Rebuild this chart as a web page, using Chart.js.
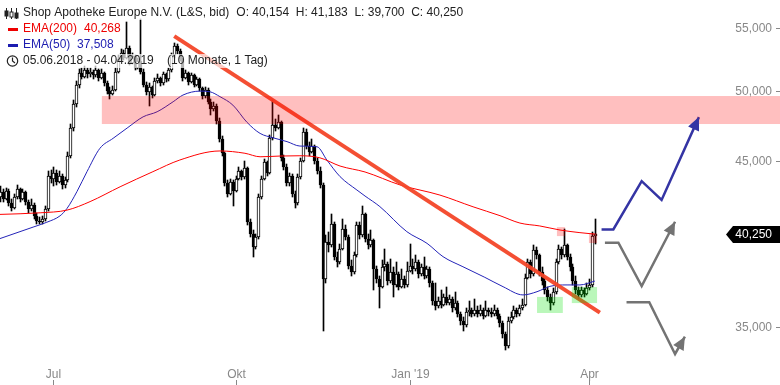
<!DOCTYPE html>
<html>
<head>
<meta charset="utf-8">
<script src="https://cdn.jsdelivr.net/npm/chart.js@4.4.1/dist/chart.umd.min.js"></script>
<style>
  html, body { margin: 0; padding: 0; background: #fff; }
  #chart { display: block; }
</style>
</head>
<body>
<canvas id="chart" width="780" height="385"></canvas>
<script>
// Tageskerzen 05.06.2018 - 04.04.2019 (Index = Handelstag)
const opens = [
  42.6, 42.9, 42.5, 43.0, 42.2, 41.9, 42.6, 43.1, 42.5, 42.9,
  42.3, 41.8, 42.1, 41.4, 41.1, 41.0, 41.2, 41.8, 44.0, 43.8,
  44.2, 43.6, 44.0, 43.4, 43.7, 45.3, 47.3, 49.0, 50.5, 51.4,
  51.1, 51.6, 51.3, 51.5, 51.2, 51.6, 51.0, 51.4, 50.6, 50.0,
  49.8, 50.1, 51.5, 52.5, 53.0, 52.6, 53.4, 52.2, 52.7, 51.8,
  52.3, 51.5, 50.5, 49.9, 50.3, 49.7, 50.8, 51.0, 50.6, 51.3,
  50.9, 51.6, 52.8, 53.5, 53.1, 52.5, 51.0, 51.4, 50.7, 51.2,
  50.5, 50.9, 50.2, 49.6, 50.1, 49.2, 48.7, 48.9, 47.8, 46.5,
  45.5, 43.5, 42.8, 43.6, 43.0, 43.8, 44.3, 43.9, 44.5, 41.0,
  40.3, 39.5, 40.1, 42.6, 43.8, 44.9, 44.2, 46.6, 47.5, 47.3,
  47.7, 45.2, 44.6, 43.5, 44.0, 42.8, 42.2, 43.9, 45.0, 47.0,
  46.0, 45.6, 46.0, 45.0, 44.3, 43.4, 37.6, 39.8, 39.6, 40.9,
  38.9, 38.6, 39.4, 40.6, 40.1, 38.4, 38.0, 39.0, 40.8, 40.2,
  41.5, 40.0, 39.6, 39.9, 38.2, 37.6, 37.2, 38.3, 38.5, 37.5,
  38.0, 37.3, 37.9, 37.2, 37.6, 37.3, 38.1, 38.4, 38.2, 38.6,
  37.9, 38.3, 37.8, 38.2, 37.4, 36.4, 36.1, 36.4, 36.2, 36.6,
  36.3, 36.5, 36.0, 36.3, 35.7, 35.3, 35.1, 35.8, 35.9, 35.7,
  35.9, 35.7, 35.9, 35.6, 35.9, 35.8, 35.7, 35.9, 35.6, 35.2,
  34.6, 34.0, 35.3, 35.5, 35.9, 35.7, 36.0, 36.2, 37.7, 38.6,
  37.9, 39.3, 39.0, 38.0, 37.5, 37.0, 36.6, 36.3, 36.9, 38.6,
  39.4, 39.0, 39.6, 38.9, 38.3, 37.5, 37.0, 36.7, 37.0, 36.8,
  37.1, 37.3, 40.154
];
const highs = [
  43.3, 43.1, 43.2, 43.1, 42.5, 42.8, 43.4, 43.2, 43.1, 43.0,
  42.4, 42.5, 42.2, 41.6, 41.3, 41.4, 42.0, 44.3, 44.4, 44.6,
  44.4, 44.3, 44.1, 43.9, 45.6, 47.6, 49.3, 50.8, 51.7, 51.8,
  51.9, 51.8, 51.8, 51.6, 51.9, 51.7, 51.7, 51.5, 50.8, 50.3,
  50.4, 51.8, 52.8, 53.3, 53.2, 55.5, 53.5, 53.0, 52.8, 52.6,
  55.8, 51.7, 50.7, 50.6, 50.4, 51.0, 51.3, 51.1, 51.5, 51.4,
  51.8, 53.0, 53.8, 53.7, 53.3, 52.6, 51.6, 51.5, 51.4, 51.3,
  51.1, 51.0, 50.3, 50.3, 50.2, 49.4, 49.2, 49.0, 48.0, 46.7,
  45.6, 43.7, 43.8, 43.7, 44.0, 44.6, 44.4, 45.0, 44.6, 41.2,
  40.5, 40.3, 42.8, 44.0, 45.1, 45.0, 46.8, 49.3, 47.9, 48.2,
  47.8, 45.4, 44.8, 44.2, 44.1, 43.0, 44.1, 45.2, 47.3, 47.2,
  46.3, 46.5, 46.1, 45.2, 44.6, 43.5, 40.2, 40.4, 41.5, 41.0,
  39.2, 39.7, 41.2, 40.8, 40.2, 38.7, 39.2, 41.0, 41.0, 42.0,
  41.6, 40.3, 40.5, 40.0, 38.4, 37.8, 38.7, 39.4, 38.6, 38.8,
  38.3, 38.6, 38.0, 38.2, 37.8, 38.6, 39.7, 38.8, 39.0, 38.7,
  38.5, 38.9, 38.4, 38.3, 37.5, 37.4, 36.6, 37.0, 36.8, 37.2,
  36.7, 36.6, 36.9, 36.4, 35.8, 35.5, 36.0, 36.4, 36.0, 36.5,
  36.1, 36.2, 36.0, 36.4, 36.0, 36.0, 36.2, 36.0, 35.7, 35.3,
  34.7, 35.5, 35.8, 36.1, 36.0, 36.2, 36.5, 37.9, 38.8, 38.7,
  39.6, 39.5, 39.1, 38.3, 37.7, 37.2, 36.8, 37.1, 38.8, 39.6,
  39.5, 40.6, 39.7, 39.1, 38.5, 37.8, 37.2, 37.2, 37.1, 37.4,
  37.6, 40.4, 41.183
];
const lows = [
  42.3, 42.3, 42.4, 42.0, 41.7, 41.8, 42.5, 42.3, 42.4, 42.1,
  41.6, 41.7, 41.2, 40.9, 40.9, 40.9, 41.1, 41.7, 43.5, 43.3,
  43.4, 43.5, 43.1, 43.2, 43.6, 45.2, 47.1, 48.8, 50.2, 50.9,
  51.0, 51.0, 51.1, 50.9, 51.1, 50.8, 50.9, 50.4, 49.8, 49.4,
  49.7, 50.0, 51.4, 52.3, 52.4, 52.5, 52.0, 52.1, 51.6, 51.7,
  51.3, 50.3, 49.7, 48.9, 49.5, 49.6, 50.6, 50.4, 50.5, 50.7,
  50.8, 51.5, 52.6, 52.9, 52.3, 50.8, 50.9, 50.5, 50.6, 50.3,
  50.4, 50.0, 49.4, 49.5, 49.0, 48.2, 48.5, 47.6, 46.3, 45.3,
  43.3, 42.6, 42.7, 42.0, 42.9, 43.7, 43.7, 43.8, 40.8, 40.1,
  38.9, 39.4, 40.0, 42.5, 43.7, 44.0, 44.1, 46.4, 47.1, 47.2,
  45.0, 44.4, 43.3, 43.3, 42.6, 41.9, 42.1, 43.8, 44.9, 45.8,
  45.3, 45.5, 44.8, 44.1, 43.2, 34.8, 37.4, 39.2, 39.5, 38.7,
  38.3, 38.5, 39.3, 39.9, 38.2, 37.8, 37.9, 38.9, 40.0, 40.1,
  39.8, 39.4, 39.5, 37.0, 37.4, 36.0, 37.1, 38.1, 37.3, 37.4,
  36.6, 37.2, 37.0, 37.1, 37.1, 37.2, 38.0, 37.9, 38.1, 37.7,
  37.8, 37.6, 37.7, 37.2, 36.2, 35.9, 36.0, 36.0, 36.1, 36.2,
  36.2, 35.8, 35.9, 35.5, 35.1, 34.8, 35.0, 35.6, 35.5, 35.6,
  35.5, 35.6, 35.4, 35.5, 35.6, 35.5, 35.6, 35.4, 35.0, 34.4,
  33.8, 33.9, 35.2, 35.4, 35.5, 35.6, 35.9, 36.1, 37.6, 37.7,
  37.8, 38.8, 37.8, 37.3, 36.8, 36.4, 35.9, 36.2, 36.8, 38.5,
  38.8, 38.9, 38.7, 38.1, 37.3, 36.8, 36.5, 36.6, 36.6, 36.7,
  37.0, 37.2, 39.70
];
const closes = [
  42.9, 42.5, 43.0, 42.2, 41.9, 42.6, 43.1, 42.5, 42.9, 42.3,
  41.8, 42.1, 41.4, 41.1, 41.0, 41.2, 41.8, 44.0, 43.8, 44.2,
  43.6, 44.0, 43.4, 43.7, 45.3, 47.3, 49.0, 50.5, 51.4, 51.1,
  51.6, 51.3, 51.5, 51.2, 51.6, 51.0, 51.4, 50.6, 50.0, 49.8,
  50.1, 51.5, 52.5, 53.0, 52.6, 53.4, 52.2, 52.7, 51.8, 52.3,
  51.5, 50.5, 49.9, 50.3, 49.7, 50.8, 51.0, 50.6, 51.3, 50.9,
  51.6, 52.8, 53.5, 53.1, 52.5, 51.0, 51.4, 50.7, 51.2, 50.5,
  50.9, 50.2, 49.6, 50.1, 49.2, 48.7, 48.9, 47.8, 46.5, 45.5,
  43.5, 42.8, 43.6, 43.0, 43.8, 44.3, 43.9, 44.5, 41.0, 40.3,
  39.5, 40.1, 42.6, 43.8, 44.9, 44.2, 46.6, 47.5, 47.3, 47.7,
  45.2, 44.6, 43.5, 44.0, 42.8, 42.2, 43.9, 45.0, 47.0, 46.0,
  45.6, 46.0, 45.0, 44.3, 43.4, 37.6, 39.8, 39.6, 40.9, 38.9,
  38.6, 39.4, 40.6, 40.1, 38.4, 38.0, 39.0, 40.8, 40.2, 41.5,
  40.0, 39.6, 39.9, 38.2, 37.6, 37.2, 38.3, 38.5, 37.5, 38.0,
  37.3, 37.9, 37.2, 37.6, 37.3, 38.1, 38.4, 38.2, 38.6, 37.9,
  38.3, 37.8, 38.2, 37.4, 36.4, 36.1, 36.4, 36.2, 36.6, 36.3,
  36.5, 36.0, 36.3, 35.7, 35.3, 35.1, 35.8, 35.9, 35.7, 35.9,
  35.7, 35.9, 35.6, 35.9, 35.8, 35.7, 35.9, 35.6, 35.2, 34.6,
  34.0, 35.3, 35.5, 35.9, 35.7, 36.0, 36.2, 37.7, 38.6, 37.9,
  39.3, 39.0, 38.0, 37.5, 37.0, 36.6, 36.3, 36.9, 38.6, 39.4,
  39.0, 39.6, 38.9, 38.3, 37.5, 37.0, 36.7, 37.0, 36.8, 37.1,
  37.3, 40.15, 40.25
];

// EMA-Linien (Index/Kurs)
const ema200Idx = [0, 14.3, 23.9, 32.1, 42.8, 54.5, 64.1, 78.4, 87.3, 92.7, 99.8, 106.9, 114.0, 121.2, 130.1, 142.6, 156.8, 168.6, 178.2, 185.3, 192.4, 199.6, 206.7, 212];
const ema200Val = [41.49, 41.59, 41.76, 42.3, 43.26, 44.26, 45.05, 45.67, 45.51, 45.27, 45.32, 45.34, 45.20, 44.64, 44.24, 43.38, 42.72, 41.97, 41.41, 40.95, 40.77, 40.52, 40.36, 40.268];
const ema50Idx = [0, 11.8, 16.7, 21.4, 23.9, 27.4, 31.0, 35.6, 40.3, 45.3, 51.0, 56.0, 61.7, 65.2, 71.3, 74.8, 78.4, 83.0, 88.0, 92.7, 97.3, 102.3, 106.9, 113.0, 116.5, 121.2, 127.2, 130.1, 135.4, 145.0, 152.2, 157.9, 165.0, 172.8, 179.3, 186.4, 191.4, 196.0, 202.1, 206.7, 212];
const ema50Val = [40.0, 40.7, 41.0, 41.4, 41.87, 42.94, 44.26, 45.85, 46.55, 47.28, 48.09, 48.46, 49.20, 49.70, 50.00, 49.95, 49.58, 48.95, 47.7, 46.9, 46.59, 46.32, 46.01, 45.96, 45.05, 43.93, 43.05, 42.66, 41.98, 40.42, 39.71, 38.92, 38.33, 37.72, 37.19, 36.73, 36.91, 37.21, 37.29, 37.29, 37.508];

// Achsen
const monthTickIdx = [19, 84, 146, 210];
const monthTickLabels = ["Jul", "Okt", "Jan '19", "Apr"];
const priceTicks = [35, 45, 50, 55];

// Zeichnungen
const trendIdx = [62.1, 213.8];
const trendVal = [54.34, 35.76];
const blueIdx = [214.4, 218.6, 228.7, 235.8, 249.1];
const blueVal = [40.56, 40.56, 43.63, 42.41, 48.07];
const gray1Idx = [215.6, 220.4, 228.7, 240.6];
const gray1Val = [39.75, 39.75, 37.23, 41.03];
const gray2Idx = [223.3, 231.4, 240.6, 244.1];
const gray2Val = [36.33, 36.33, 33.59, 34.48];
const zoneIdx = [36.3, 278];
const zoneVal = [47.57, 49.63];
const greenIdx = [[191.4, 200.6], [203.8, 212.8]];
const greenVal = [[35.74, 36.62], [36.28, 37.17]];
const pinkIdx = [[198.5, 201.4], [209.9, 212.8]];
const pinkVal = [[40.15, 40.70], [39.73, 40.34]];

const FONT = "12px 'Liberation Sans', Arial, sans-serif";
const fmt = v => v.toFixed(3).replace(".", ",");
const pts = (xs, ys) => xs.map((x, i) => ({ x: x, y: ys[i] }));

const n = closes.length;
const last = n - 1;
const wickData = closes.map((c, i) => ({ x: i, y: [lows[i], highs[i]] }));
const bodyData = closes.map((c, i) => ({ x: i, y: [Math.min(opens[i], c), Math.max(opens[i], c)] }));
const bodyColors = closes.map((c, i) => (c >= opens[i] ? "#ffffff" : "#000000"));

function arrowHead(ctx, x1, y1, x2, y2, color) {
  const a = Math.atan2(y2 - y1, x2 - x1);
  const len = 13, half = 6;
  ctx.fillStyle = color;
  ctx.beginPath();
  ctx.moveTo(x2, y2);
  ctx.lineTo(x2 - len * Math.cos(a) + half * Math.sin(a), y2 - len * Math.sin(a) - half * Math.cos(a));
  ctx.lineTo(x2 - len * Math.cos(a) - half * Math.sin(a), y2 - len * Math.sin(a) + half * Math.cos(a));
  ctx.closePath();
  ctx.fill();
}

function textWithBg(ctx, txt, x, y, color) {
  const w = ctx.measureText(txt).width;
  ctx.fillStyle = "rgba(255,255,255,0.7)";
  ctx.fillRect(x - 1, y - 7, w + 2, 14);
  ctx.fillStyle = color;
  ctx.fillText(txt, x, y);
  return x + w;
}

// Kerzen auf ganze Pixel legen, damit sie scharf wirken
const crisp = {
  id: "crisp",
  afterDatasetsUpdate(chart) {
    chart.data.datasets.forEach((ds, k) => {
      if (ds.type !== "bar") return;
      chart.getDatasetMeta(k).data.forEach(el => {
        el.x = Math.round(el.x) + 0.5;
        const top = Math.round(Math.min(el.y, el.base));
        let bot = Math.round(Math.max(el.y, el.base));
        if (bot - top < 1) bot = top + 1;
        el.y = top;
        el.base = bot;
        el.height = bot - top;
      });
    });
  }
};

const overlay = {
  id: "overlay",
  afterDatasetsDraw(chart) {
    const { ctx } = chart;
    const xs = chart.scales.x, ys = chart.scales.y;
    const px = i => xs.getPixelForValue(i);
    const py = v => ys.getPixelForValue(v);
    const box = (i0, i1, v0, v1, color) => {
      ctx.fillStyle = color;
      ctx.fillRect(px(i0), py(v1), px(i1) - px(i0), py(v0) - py(v1));
    };
    ctx.save();

    // Zonen
    box(zoneIdx[0], zoneIdx[1], zoneVal[0], zoneVal[1], "rgba(255,0,0,0.25)");
    greenIdx.forEach((g, k) => box(g[0], g[1], greenVal[k][0], greenVal[k][1], "rgba(0,225,0,0.27)"));
    pinkIdx.forEach((p, k) => box(p[0], p[1], pinkVal[k][0], pinkVal[k][1], "rgba(255,0,0,0.25)"));

    // Pfeilspitzen
    const head = (xa, va, color) => {
      const m = xa.length - 1;
      arrowHead(ctx, px(xa[m - 1]), py(va[m - 1]), px(xa[m]), py(va[m]), color);
    };
    head(blueIdx, blueVal, "#3434a4");
    head(gray1Idx, gray1Val, "#737373");
    head(gray2Idx, gray2Val, "#737373");

    // Y-Achse (rechts, innen)
    ctx.font = FONT;
    ctx.textBaseline = "middle";
    ctx.textAlign = "right";
    ctx.strokeStyle = "#888";
    ctx.lineWidth = 1;
    priceTicks.forEach(v => {
      const yy = Math.round(py(v)) + 0.5;
      ctx.fillStyle = "#888";
      ctx.fillText(fmt(v), 772, yy);
      ctx.beginPath();
      ctx.moveTo(776, yy);
      ctx.lineTo(780, yy);
      ctx.stroke();
    });

    // Kurs-Marke
    const yl = py(closes[last]);
    ctx.fillStyle = "#000";
    ctx.beginPath();
    ctx.moveTo(726, yl);
    ctx.lineTo(733, yl - 8.5);
    ctx.lineTo(780, yl - 8.5);
    ctx.lineTo(780, yl + 8.5);
    ctx.lineTo(733, yl + 8.5);
    ctx.closePath();
    ctx.fill();
    ctx.fillStyle = "#fff";
    ctx.fillText(fmt(closes[last]), 772, yl);

    // X-Achse (unten, innen)
    ctx.textAlign = "center";
    monthTickIdx.forEach((i, k) => {
      const xx = Math.round(px(i)) + 0.5;
      ctx.fillStyle = "#888";
      ctx.fillText(monthTickLabels[k], xx, 375);
      ctx.beginPath();
      ctx.moveTo(xx, 380);
      ctx.lineTo(xx, 385);
      ctx.stroke();
    });

    // Legende
    ctx.textAlign = "left";
    let x = textWithBg(ctx, "Shop Apotheke Europe N.V. (L&S, bid)", 23, 13, "#222");
    const ohlc = "O: " + fmt(opens[last]) + "  H: " + fmt(highs[last]) + "  L: " + fmt(lows[last]) + "  C: " + fmt(closes[last]);
    textWithBg(ctx, ohlc, x + 7, 13, "#222");
    textWithBg(ctx, "EMA(200)", 23, 29, "#ee0000");
    textWithBg(ctx, fmt(ema200Val[ema200Val.length - 1]), 84, 29, "#ee0000");
    textWithBg(ctx, "EMA(50)", 23, 45, "#1c1cb0");
    textWithBg(ctx, fmt(ema50Val[ema50Val.length - 1]), 77, 45, "#1c1cb0");
    textWithBg(ctx, "05.06.2018 - 04.04.2019", 23, 61, "#222");
    textWithBg(ctx, "(10 Monate, 1 Tag)", 167, 61, "#222");

    // Symbole
    ctx.fillStyle = "#ee0000";
    ctx.fillRect(8, 28, 10, 3);
    ctx.fillStyle = "#1c1cb0";
    ctx.fillRect(8, 44, 10, 3);
    ctx.strokeStyle = "#222";
    ctx.lineWidth = 1.2;
    ctx.beginPath();
    ctx.arc(12.5, 61, 5.2, 0, Math.PI * 2);
    ctx.moveTo(12.5, 57.5);
    ctx.lineTo(12.5, 61);
    ctx.lineTo(15, 63);
    ctx.stroke();
    ctx.lineWidth = 1;
    [6.5, 11.5, 16.5].forEach((cx, k) => {
      ctx.beginPath();
      ctx.moveTo(cx, 8);
      ctx.lineTo(cx, 19);
      ctx.stroke();
      ctx.fillStyle = k === 1 ? "#fff" : "#222";
      ctx.fillRect(cx - 1.5, 11 + k, 3, 5);
      ctx.strokeRect(cx - 1.5, 11 + k, 3, 5);
    });

    ctx.restore();
  }
};

new Chart(document.getElementById("chart").getContext("2d"), {
  data: {
    datasets: [
      { type: "line", label: "Trend", data: pts(trendIdx, trendVal), borderColor: "rgba(243,70,40,0.95)", borderWidth: 4, pointRadius: 0, order: 0 },
      { type: "line", label: "Szenario 1", data: pts(blueIdx, blueVal), borderColor: "#3434a4", borderWidth: 2.5, pointRadius: 0, order: 0 },
      { type: "line", label: "Szenario 2", data: pts(gray1Idx, gray1Val), borderColor: "#737373", borderWidth: 2.5, pointRadius: 0, order: 0 },
      { type: "line", label: "Szenario 3", data: pts(gray2Idx, gray2Val), borderColor: "#737373", borderWidth: 2.5, pointRadius: 0, order: 0 },
      { type: "line", label: "EMA(200)", data: pts(ema200Idx, ema200Val), borderColor: "#ff0000", borderWidth: 1, pointRadius: 0, cubicInterpolationMode: "monotone", order: 1 },
      { type: "line", label: "EMA(50)", data: pts(ema50Idx, ema50Val), borderColor: "#2424b8", borderWidth: 1, pointRadius: 0, cubicInterpolationMode: "monotone", order: 1 },
      { type: "bar", label: "Körper", data: bodyData, backgroundColor: bodyColors, borderColor: "#000", borderWidth: 1, borderSkipped: false, barThickness: 3, grouped: false, order: 2 },
      { type: "bar", label: "Docht", data: wickData, backgroundColor: "#000", borderWidth: 0, barThickness: 1, grouped: false, order: 3 }
    ]
  },
  options: {
    responsive: false,
    animation: false,
    devicePixelRatio: 1,
    layout: { padding: 0 },
    plugins: { legend: { display: false }, tooltip: { enabled: false } },
    scales: {
      x: { type: "linear", display: false, min: 0, max: 278, offset: false },
      y: { type: "logarithmic", display: false, min: 32.05, max: 57.39 }
    }
  },
  plugins: [crisp, overlay]
});
</script>
</body>
</html>
